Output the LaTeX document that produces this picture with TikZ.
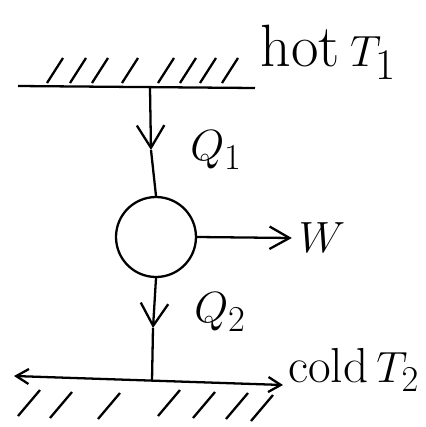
\documentclass[tikz,border=0pt]{standalone}
\usepackage{tikz}
\usetikzlibrary{arrows.meta,positioning}

\begin{document}
\begin{tikzpicture}[x=0.02cm,y=-0.02cm,line width=1.3pt,
    >={Straight Barb[length=4.5mm,width=5.5mm]},
    lbl/.style={font=\fontsize{28}{32}\selectfont},
    big/.style={font=\fontsize{34}{40}\selectfont}]
    \useasboundingbox (0,0) rectangle (426,427);

    % Hot reservoir
    \draw (18,86) -- (255,88);
    \foreach \xa in {47,70,92,122,158,180,200,222}
        \draw (\xa,83) -- ++(16,-25);
    \node[big,anchor=west] (hot) at (254,52) {hot\,$T_1$};
    \coordinate (top) at (150,88);

    % Engine
    \node[circle,draw,minimum size=1.6cm,inner sep=0pt] (engine) at (156,237) {};
    \coordinate (q1tip) at (151,150);
    \draw[->] (top) -- (q1tip);
    \draw (q1tip) -- (engine.north);
    \node[lbl] (q1) at (216,150) {$Q_1$};

    % Work
    \node[big] (work) at (322,238) {$W$};
    \draw[->,>={Straight Barb[length=4mm,width=4.5mm]}] (engine.east) -- (work.west);

    % Cold reservoir
    \coordinate (bot) at (152,381);
    \coordinate (q2tip) at (153,328);
    \draw[->] (engine.south) -- (q2tip);
    \draw (q2tip) -- (bot);
    \node[lbl] (q2) at (220,312) {$Q_2$};
    \draw[<->,>={Straight Barb[length=2.5mm,width=3mm]}] (14,376) -- (283,385);
    \foreach \xa/\ya in {40/390,72/392,120/393,180/390,215/392,248/393,273/395}
        \draw (\xa,\ya) -- ++(-22,26);
    \node[lbl,anchor=east,inner sep=1pt] (cold) at (422,370) {cold\,$T_2$};
\end{tikzpicture}
\end{document}
